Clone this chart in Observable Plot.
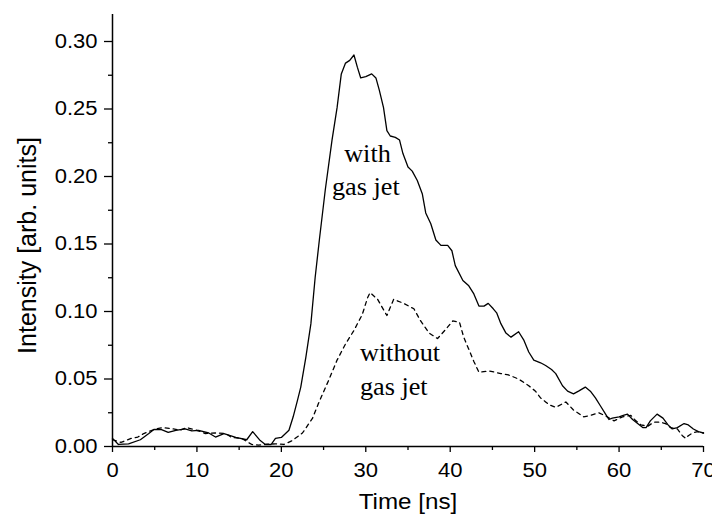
<!DOCTYPE html>
<html><head><meta charset="utf-8">
<script src="https://cdn.jsdelivr.net/npm/d3@7"></script>
<script src="https://cdn.jsdelivr.net/npm/@observablehq/plot@0.6"></script>
<style>body{margin:0;background:#fff} #chart svg{overflow:visible}</style>
</head><body><div id="chart"></div>
<script>
// "with gas jet" (solid)
const withTime = [0.0,0.7,1.9,3.3,4.3,4.9,5.8,6.6,7.5,8.6,9.4,10.2,11.4,12.2,13.2,14.6,15.9,16.6,17.5,18.1,18.8,19.3,20.0,20.9,21.4,21.9,22.3,22.9,23.5,24.0,24.5,25.2,26.0,26.6,27.1,27.6,28.1,28.6,29.0,29.4,30.0,30.7,31.2,31.6,32.1,32.5,32.9,33.5,34.0,34.4,35.0,35.5,36.1,36.7,37.1,37.7,38.3,38.9,39.7,40.2,40.6,41.5,42.2,42.8,43.4,44.0,44.5,45.1,45.5,46.0,46.6,47.2,48.1,48.7,49.3,49.9,50.7,51.3,52.0,52.5,53.3,53.9,54.6,55.2,56.0,56.6,57.2,57.8,58.4,58.8,59.2,60.0,60.5,61.0,61.6,62.2,62.8,63.2,63.7,64.5,65.2,65.8,66.3,66.9,67.7,68.2,68.8,69.4,70.0];
const withIntensity = [0.006,0.0015,0.002,0.005,0.0096,0.0126,0.0125,0.0104,0.012,0.013,0.0115,0.012,0.010,0.007,0.0096,0.0067,0.005,0.011,0.0044,0.0015,0.0015,0.006,0.0067,0.012,0.022,0.034,0.044,0.066,0.091,0.125,0.153,0.19,0.227,0.251,0.276,0.284,0.286,0.290,0.281,0.273,0.274,0.276,0.273,0.264,0.251,0.234,0.230,0.229,0.227,0.217,0.207,0.204,0.197,0.187,0.173,0.165,0.153,0.149,0.149,0.145,0.134,0.123,0.119,0.113,0.104,0.104,0.106,0.102,0.099,0.091,0.084,0.081,0.085,0.079,0.070,0.064,0.062,0.060,0.057,0.054,0.045,0.041,0.039,0.041,0.044,0.041,0.036,0.030,0.024,0.020,0.021,0.022,0.023,0.024,0.020,0.017,0.014,0.014,0.019,0.024,0.021,0.016,0.013,0.014,0.017,0.016,0.013,0.011,0.010];
// "without gas jet" (dashed)
const withoutTime = [0.0,1.0,2.2,3.0,3.7,5.1,6.0,7.2,8.0,8.8,10.0,11.0,12.2,13.4,14.1,15.3,16.5,17.3,18.1,19.3,20.3,21.3,22.5,23.7,24.4,25.6,26.6,27.6,28.6,29.6,30.2,30.5,31.4,32.5,33.3,34.5,35.7,36.5,37.5,38.5,39.5,40.3,41.1,41.6,42.2,42.8,43.4,44.6,46.0,46.9,48.1,49.3,50.1,50.7,51.3,51.7,52.5,53.7,54.6,55.8,56.6,57.6,58.6,59.4,60.4,61.4,62.0,62.6,63.4,64.1,64.9,65.5,66.1,66.9,67.5,67.9,68.2,68.7,69.3,70.0];
const withoutIntensity = [0.005,0.003,0.006,0.007,0.0096,0.013,0.014,0.013,0.012,0.014,0.012,0.0096,0.010,0.0096,0.0067,0.006,0.0015,0.001,0.0015,0.002,0.0015,0.0044,0.010,0.021,0.032,0.049,0.064,0.076,0.086,0.098,0.110,0.114,0.109,0.097,0.109,0.106,0.102,0.093,0.084,0.080,0.087,0.093,0.092,0.081,0.072,0.063,0.055,0.056,0.054,0.053,0.050,0.045,0.041,0.036,0.033,0.031,0.029,0.033,0.027,0.022,0.023,0.025,0.022,0.019,0.022,0.023,0.019,0.016,0.015,0.018,0.018,0.017,0.014,0.013,0.008,0.006,0.008,0.010,0.011,0.010];

const xMajorTicks = [0,10,20,30,40,50,60,70];
const xMinorTicks = [5,15,25,35,45,55,65];
const yMajorTicks = [0,0.05,0.10,0.15,0.20,0.25,0.30];
const yMinorTicks = [0.025,0.075,0.125,0.175,0.225,0.275];
const xLabel = "Time [ns]";
const yLabel = "Intensity [arb. units]";
const withLabels = [
  {t: 30.2, v: 0.217, s: "with"},
  {t: 30.0, v: 0.192, s: "gas jet"}
];
const withoutLabels = [
  {t: 29.3, v: 0.069, s: "without"},
  {t: 29.3, v: 0.0444, s: "gas jet"}
];

const withData = withTime.map((t, i) => ({t, v: withIntensity[i]}));
const withoutData = withoutTime.map((t, i) => ({t, v: withoutIntensity[i]}));
const serif = "'Liberation Serif', 'Times New Roman', serif";

const chart = Plot.plot({
  width: 712,
  height: 520,
  marginLeft: 112,
  marginRight: 9,
  marginTop: 14,
  marginBottom: 74,
  style: {fontFamily: "'Liberation Sans', Arial, sans-serif", fontSize: "20px", color: "black", background: "white"},
  x: {domain: [0, 70]},
  y: {domain: [0, 0.32]},
  marks: [
    Plot.axisX(xMajorTicks, {tickSize: 6, tickPadding: 10, strokeWidth: 1.3, label: null, tickFormat: d3.format("d")}),
    Plot.axisX(xMinorTicks, {tickSize: 4, strokeWidth: 1.3, label: null, tickFormat: () => ""}),
    Plot.axisY(yMajorTicks, {tickSize: 8, tickPadding: 7, strokeWidth: 1.3, label: null, tickFormat: d3.format(".2f")}),
    Plot.axisY(yMinorTicks, {tickSize: 4, strokeWidth: 1.3, label: null, tickFormat: () => ""}),
    Plot.ruleX([0], {strokeWidth: 1.5}),
    Plot.ruleY([0], {strokeWidth: 1.5}),
    Plot.line(withoutData, {x: "t", y: "v", stroke: "black", strokeWidth: 1.3, strokeDasharray: "4,4"}),
    Plot.line(withData, {x: "t", y: "v", stroke: "black", strokeWidth: 1.3}),
    Plot.text(withLabels, {x: "t", y: "v", text: "s", textAnchor: "middle", fontFamily: serif, fontSize: 25}),
    Plot.text(withoutLabels, {x: "t", y: "v", text: "s", textAnchor: "start", fontFamily: serif, fontSize: 25}),
    Plot.text([xLabel], {frameAnchor: "bottom", dy: 62, fontSize: 22}),
    Plot.text([yLabel], {frameAnchor: "left", textAnchor: "middle", rotate: -90, dx: -85, dy: 15, fontSize: 25})
  ]
});
document.getElementById("chart").append(chart);
chart.querySelectorAll("text").forEach(t => {
  const s = t.textContent.trim();
  if (!s || s === yLabel) return;
  const ff = getComputedStyle(t).fontFamily;
  const k = /Serif|Times/.test(ff) ? 1.05 : 1.1;
  const len = t.getComputedTextLength();
  t.setAttribute("textLength", (len * k).toFixed(1));
  t.setAttribute("lengthAdjust", "spacingAndGlyphs");
});
</script></body></html>
